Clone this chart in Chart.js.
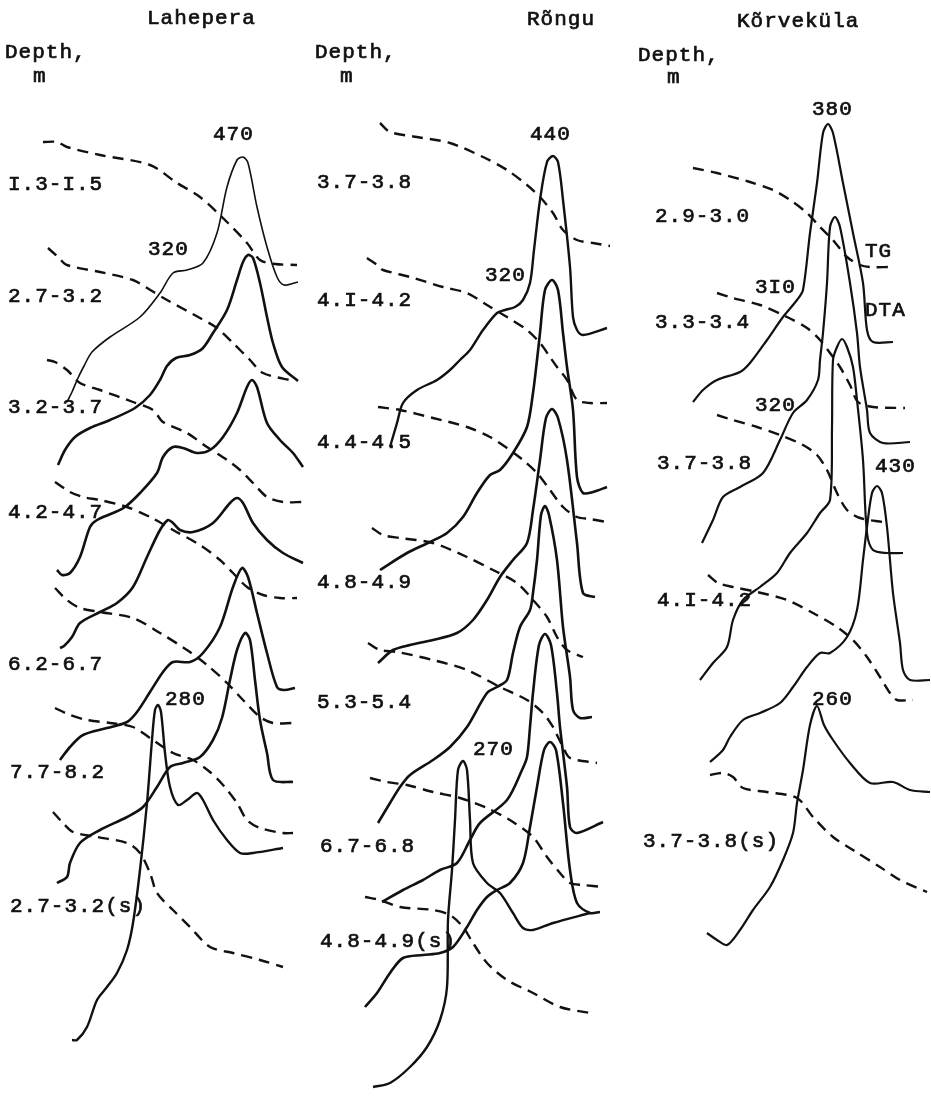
<!DOCTYPE html>
<html>
<head>
<meta charset="utf-8">
<script src="https://cdn.jsdelivr.net/npm/chart.js@4/dist/chart.umd.min.js"></script>
<style>
  html, body { margin: 0; padding: 0; background: #fff; }
  canvas { display: block; }
</style>
</head>
<body>
<canvas id="thermo" width="931" height="1100"></canvas>
<script>
// curves, in the plate's own x / y units (y grows downward)
// Lahepera
const lahTG1 = [[43,142],[57,142],[67,147],[100,155],[150,165],[177,183],[200,197],[227,222],[247,243],[260,260],[275,264],[297,265]];
const lahDTA1 = [[67,402],[72,392],[78,378],[84,366],[92,352],[110,337],[140,317],[160,293],[173,273],[187,270],[203,263],[217,233],[227,187],[237,160],[243,157],[248,163],[257,207],[267,247],[277,277],[284,285],[298,282]];
const lahTG2 = [[48,248],[58,257],[67,265],[100,272],[133,280],[147,288],[167,300],[200,318],[217,328],[233,343],[250,360],[263,373],[294,381]];
const lahDTA2 = [[58,465],[65,450],[75,437],[90,428],[110,420],[135,408],[150,395],[160,380],[167,366],[176,358],[190,355],[202,349],[213,333],[227,310],[237,280],[243,262],[248,255],[253,258],[260,283],[267,317],[273,343],[282,367],[298,381]];
const lahTG3 = [[47,360],[55,362],[67,370],[80,383],[100,390],[133,402],[153,410],[163,422],[187,433],[207,447],[227,460],[240,470],[253,483],[267,497],[283,502],[303,502]];
const lahDTA3 = [[57,570],[62,575],[70,573],[80,557],[90,527],[97,520],[113,513],[125,507],[140,493],[157,473],[163,457],[173,447],[183,448],[197,453],[210,450],[223,437],[237,413],[247,387],[252,380],[257,387],[267,423],[280,440],[293,453],[303,467]];
const lahTG4 = [[55,482],[70,492],[83,497],[100,500],[127,507],[150,517],[173,530],[200,545],[220,560],[233,573],[247,587],[263,595],[280,598],[297,598]];
const lahDTA4 = [[60,648],[64,646],[72,637],[80,623],[100,612],[117,603],[133,587],[147,557],[160,530],[168,520],[173,523],[180,530],[193,532],[213,523],[230,503],[237,498],[243,503],[253,523],[267,540],[283,553],[303,563]];
const lahTG5 = [[55,588],[67,600],[80,608],[100,612],[133,618],[160,633],[187,650],[207,665],[227,683],[243,700],[260,717],[273,723],[293,723]];
const lahDTA5 = [[60,760],[70,747],[83,735],[107,728],[127,722],[137,712],[150,692],[163,672],[173,662],[190,662],[203,653],[220,627],[233,587],[242,568],[248,577],[257,613],[267,653],[277,687],[284,690],[295,688]];
const lahTG6 = [[55,708],[70,715],[87,720],[110,723],[133,727],[150,738],[173,753],[193,760],[210,772],[223,785],[237,803],[247,820],[260,828],[283,833],[293,833]];
const lahDTA6 = [[57,883],[67,877],[70,863],[80,843],[100,830],[127,817],[143,807],[157,787],[170,767],[183,763],[200,757],[213,740],[222,718],[230,680],[237,650],[245,633],[250,640],[255,680],[260,720],[267,753],[273,780],[293,782]];
const lahTG7 = [[53,812],[63,823],[73,832],[97,837],[127,843],[140,853],[150,873],[157,893],[173,910],[190,927],[210,947],[233,953],[260,960],[283,967]];
const lahDTA7 = [[72,1040],[77,1040],[87,1027],[97,1000],[107,987],[117,973],[127,950],[133,923],[140,870],[147,803],[152,740],[155,710],[158,705],[161,712],[165,753],[170,787],[178,805],[187,800],[197,793],[203,800],[213,820],[227,840],[240,853],[253,853],[283,848]];

// Rõngu
const ronTG1 = [[380,123],[390,132],[417,137],[450,143],[483,157],[507,170],[527,185],[540,197],[553,213],[563,230],[577,240],[593,243],[610,246]];
const ronDTA1 = [[390,447],[397,423],[403,403],[417,390],[437,380],[450,370],[460,360],[470,350],[483,330],[497,313],[505,310],[515,307],[523,300],[530,283],[534,250],[540,200],[547,162],[553,156],[558,162],[563,200],[570,267],[573,317],[577,330],[583,335],[607,328]];
const ronTG2 = [[367,258],[380,267],[383,270],[410,277],[443,287],[467,293],[487,305],[507,317],[527,330],[540,343],[550,357],[557,367],[567,380],[577,400],[590,403],[607,403]];
const ronDTA2 = [[380,570],[407,553],[430,542],[447,533],[463,517],[477,493],[490,475],[500,470],[513,453],[527,427],[533,393],[537,360],[540,333],[545,290],[552,280],[558,290],[563,333],[567,367],[573,410],[577,477],[583,493],[593,492],[607,487]];
const ronTG3 = [[378,407],[400,410],[433,418],[467,427],[490,437],[507,448],[523,460],[537,473],[550,490],[563,507],[577,517],[590,519],[607,522]];
const ronDTA3 = [[378,663],[393,650],[410,645],[433,640],[457,633],[473,620],[487,600],[500,577],[513,560],[527,543],[533,510],[540,460],[546,418],[552,409],[558,418],[567,460],[577,543],[583,593],[595,597]];
const ronTG4 = [[372,528],[383,535],[400,538],[433,543],[467,557],[493,570],[517,583],[533,600],[547,617],[557,637],[567,650],[583,657]];
const ronDTA4 = [[378,823],[390,803],[400,787],[410,775],[433,760],[450,747],[467,727],[487,693],[497,687],[507,680],[513,653],[520,627],[530,610],[533,593],[537,560],[541,515],[545,506],[549,515],[557,560],[563,627],[570,677],[573,710],[580,718],[592,717]];
const ronTG5 = [[368,643],[380,650],[397,652],[433,660],[467,670],[500,687],[527,700],[543,713],[553,727],[557,735],[563,747],[570,758],[597,763]];
const ronDTA5 = [[382,902],[403,890],[423,880],[440,870],[457,863],[470,840],[480,823],[507,800],[522,770],[527,757],[530,727],[533,693],[539,645],[545,634],[551,645],[557,693],[560,727],[567,787],[570,827],[577,833],[603,822]];
const ronTG6 = [[370,778],[387,782],[407,785],[433,792],[460,798],[487,808],[513,822],[533,837],[547,857],[560,873],[570,883],[583,885],[603,887]];
const ronDTA6 = [[365,1007],[377,993],[390,973],[403,958],[423,955],[440,953],[453,947],[467,927],[477,910],[487,897],[497,890],[510,883],[523,863],[530,827],[537,787],[544,750],[550,742],[556,750],[563,803],[570,870],[577,903],[590,913],[600,912]];
const ronTG7 = [[365,897],[380,900],[400,907],[433,910],[450,915],[463,927],[473,943],[487,963],[507,980],[533,993],[560,1007],[590,1013]];
const ronDTA7 = [[373,1087],[390,1083],[410,1067],[427,1047],[440,1020],[447,987],[448,920],[452,870],[455,820],[458,770],[463,761],[467,770],[470,820],[473,863],[487,883],[500,893],[513,913],[523,928],[533,930],[553,923],[590,913]];

// Kõrveküla
const korTG1 = [[693,168],[717,173],[750,182],[773,190],[790,200],[807,213],[820,227],[833,240],[847,257],[860,265],[870,267],[890,267]];
const korDTA1 = [[693,402],[703,390],[717,380],[740,372],[750,363],[767,340],[783,317],[797,300],[803,290],[810,233],[817,183],[823,133],[828,124],[833,133],[843,183],[853,233],[863,283],[867,330],[873,342],[893,342]];
const korTG2 = [[717,293],[733,298],[760,305],[787,317],[807,328],[820,340],[830,353],[840,367],[850,385],[858,402],[873,407],[905,408]];
const korDTA2 = [[702,543],[713,520],[723,497],[740,487],[763,473],[780,440],[793,413],[807,400],[818,380],[820,360],[823,333],[827,283],[830,227],[835,217],[840,227],[850,283],[857,333],[860,367],[867,410],[870,433],[883,443],[910,442]];
const korTG3 = [[717,415],[733,420],[757,427],[780,435],[803,445],[817,455],[827,470],[837,493],[847,510],[860,518],[883,522]];
const korDTA3 = [[700,680],[713,663],[727,647],[733,620],[743,600],[760,587],[777,573],[790,553],[807,533],[820,513],[830,500],[832,427],[833,360],[837,347],[842,339],[847,347],[853,367],[857,400],[863,460],[867,533],[873,550],[887,553],[903,553]];
const korTG4 = [[708,575],[718,583],[733,587],[757,592],[787,600],[813,613],[837,627],[853,640],[867,657],[880,677],[890,693],[897,700],[913,700]];
const korDTA4 = [[710,762],[723,750],[730,737],[743,720],[760,713],[780,703],[793,687],[807,667],[820,653],[830,653],[847,637],[857,610],[863,560],[867,527],[872,493],[877,486],[882,493],[887,527],[893,593],[900,643],[903,670],[910,680],[930,680]];
const korTG5 = [[710,775],[723,773],[733,777],[743,788],[767,792],[797,798],[813,817],[833,837],[853,850],[880,867],[900,880],[927,892]];
const korDTA5 = [[707,933],[717,940],[727,945],[740,930],[753,910],[770,887],[783,860],[793,833],[797,803],[803,770],[810,725],[817,706],[824,725],[833,740],[850,763],[870,783],[893,782],[910,790],[930,792]];

// text on the plate
const titles = ["Lahepera", "Rõngu", "Kõrveküla"];
const depthHead = ["Depth,", "m"];
const lahDepths = ["I.3-I.5", "2.7-3.2", "3.2-3.7", "4.2-4.7", "6.2-6.7", "7.7-8.2", "2.7-3.2(s)"];
const ronDepths = ["3.7-3.8", "4.I-4.2", "4.4-4.5", "4.8-4.9", "5.3-5.4", "6.7-6.8", "4.8-4.9(s)"];
const korDepths = ["2.9-3.0", "3.3-3.4", "3.7-3.8", "4.I-4.2", "3.7-3.8(s)"];
const lahPeaks = ["470", "320", "280"];
const ronPeaks = ["440", "320", "270"];
const korPeaks = ["380", "3I0", "320", "430", "260"];
const curveNames = ["TG", "DTA"];

// where each piece of text sits (left x, baseline y)
const textSpots = [
  [titles[0], 147, 24], [titles[1], 527, 25], [titles[2], 737, 27],
  [depthHead[0], 5, 58], [depthHead[1], 33, 82],
  [depthHead[0], 315, 58], [depthHead[1], 340, 82],
  [depthHead[0], 638, 61], [depthHead[1], 667, 83],
  [lahDepths[0], 8, 190], [lahDepths[1], 8, 302], [lahDepths[2], 8, 413], [lahDepths[3], 8, 518],
  [lahDepths[4], 8, 670], [lahDepths[5], 10, 778], [lahDepths[6], 10, 912],
  [ronDepths[0], 317, 188], [ronDepths[1], 317, 306], [ronDepths[2], 317, 448], [ronDepths[3], 317, 588],
  [ronDepths[4], 317, 708], [ronDepths[5], 320, 852], [ronDepths[6], 320, 947],
  [korDepths[0], 655, 222], [korDepths[1], 655, 328], [korDepths[2], 657, 469], [korDepths[3], 657, 606],
  [korDepths[4], 643, 847],
  [lahPeaks[0], 213, 140], [lahPeaks[1], 148, 255], [lahPeaks[2], 165, 705],
  [ronPeaks[0], 530, 140], [ronPeaks[1], 485, 281], [ronPeaks[2], 473, 755],
  [korPeaks[0], 812, 115], [korPeaks[1], 755, 293], [korPeaks[2], 755, 411], [korPeaks[3], 875, 472], [korPeaks[4], 812, 705],
  [curveNames[0], 865, 257], [curveNames[1], 865, 316]
];

function pts(list) {
  return list.map(p => ({ x: p[0], y: p[1] }));
}

function solid(list, w) {
  return { data: pts(list), borderColor: "#111", borderWidth: w, tension: 0.3, pointRadius: 0, fill: false };
}

function dashed(list) {
  return { data: pts(list), borderColor: "#111", borderWidth: 2.4, borderDash: [11, 7], tension: 0.3, pointRadius: 0, fill: false };
}

const plateText = {
  id: "plateText",
  afterDatasetsDraw(chart) {
    const ctx = chart.ctx;
    const sx = chart.scales.x, sy = chart.scales.y;
    ctx.save();
    ctx.fillStyle = "#111";
    ctx.strokeStyle = "#111";
    ctx.lineWidth = 0.7;
    ctx.font = "21px 'Liberation Mono', 'DejaVu Sans Mono', monospace";
    ctx.letterSpacing = "1px";
    ctx.textAlign = "left";
    ctx.textBaseline = "alphabetic";
    textSpots.forEach(t => {
      const px = sx.getPixelForValue(t[1]), py = sy.getPixelForValue(t[2]);
      ctx.fillText(t[0], px, py);
      ctx.strokeText(t[0], px, py);
    });
    ctx.restore();
  }
};

const datasets = [
  dashed(lahTG1), solid(lahDTA1, 1.6),
  dashed(lahTG2), solid(lahDTA2, 2.6),
  dashed(lahTG3), solid(lahDTA3, 2.6),
  dashed(lahTG4), solid(lahDTA4, 2.6),
  dashed(lahTG5), solid(lahDTA5, 2.6),
  dashed(lahTG6), solid(lahDTA6, 2.6),
  dashed(lahTG7), solid(lahDTA7, 2.4),
  dashed(ronTG1), solid(ronDTA1, 2.4),
  dashed(ronTG2), solid(ronDTA2, 2.6),
  dashed(ronTG3), solid(ronDTA3, 2.6),
  dashed(ronTG4), solid(ronDTA4, 2.6),
  dashed(ronTG5), solid(ronDTA5, 2.6),
  dashed(ronTG6), solid(ronDTA6, 2.6),
  dashed(ronTG7), solid(ronDTA7, 2.4),
  dashed(korTG1), solid(korDTA1, 2.2),
  dashed(korTG2), solid(korDTA2, 2.2),
  dashed(korTG3), solid(korDTA3, 2.2),
  dashed(korTG4), solid(korDTA4, 2.2),
  dashed(korTG5), solid(korDTA5, 2.2)
];

new Chart(document.getElementById("thermo").getContext("2d"), {
  type: "line",
  data: { datasets: datasets },
  options: {
    responsive: false,
    animation: false,
    devicePixelRatio: 1,
    layout: { padding: 0 },
    plugins: { legend: { display: false }, tooltip: { enabled: false } },
    scales: {
      x: { type: "linear", min: 0, max: 931, display: false },
      y: { type: "linear", min: 0, max: 1100, reverse: true, display: false }
    }
  },
  plugins: [plateText]
});
</script>
</body>
</html>
